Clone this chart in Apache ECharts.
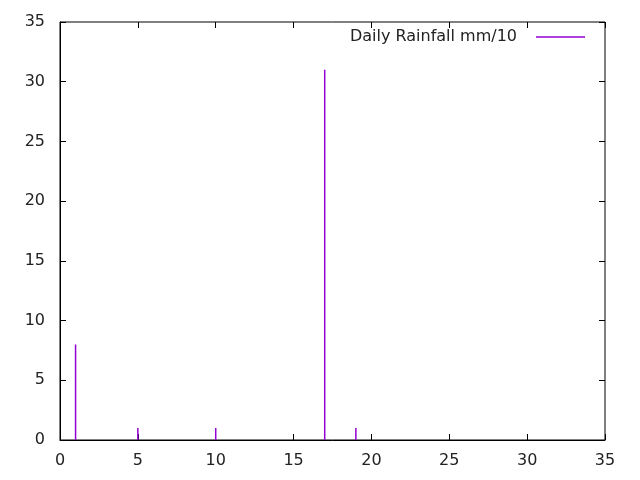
<!DOCTYPE html>
<html>
<head>
<meta charset="utf-8">
<script src="https://cdn.jsdelivr.net/npm/echarts@6/dist/echarts.min.js"></script>
<style>
  html, body { margin: 0; padding: 0; background: #fff; }
  #chart { width: 640px; height: 480px; }
</style>
</head>
<body>
<div id="chart"></div>
<script>
// day of month
const days = [1, 5, 10, 17, 19];
// rainfall in mm/10
const rainfall = [8, 1, 1, 31, 1];
const seriesName = 'Daily Rainfall mm/10';
const lineColor = '#9400d3';

const chart = echarts.init(document.getElementById('chart'));

const tickStyle = { show: true, inside: true, length: 6, lineStyle: { color: '#000' } };
const fontFamily = 'DejaVu Sans';

chart.setOption({
    animation: false,
    textStyle: { fontFamily: fontFamily },
    grid: { left: 60, right: 35, top: 22, bottom: 40, show: true, borderColor: '#000', borderWidth: 1 },
    legend: {
        right: 50,
        top: 24,
        align: 'right',
        icon: 'rect',
        itemWidth: 49,
        itemHeight: 1.5,
        itemGap: 0,
        textStyle: { fontSize: 16, color: '#222', fontFamily: fontFamily, padding: [0, 14, 0, 0] },
        data: [{ name: seriesName, itemStyle: { color: lineColor } }]
    },
    xAxis: [{
        type: 'value', min: 0, max: 35, interval: 5,
        axisLine: { show: true, onZero: false, lineStyle: { color: '#000' } },
        axisTick: tickStyle,
        splitLine: { show: false },
        axisLabel: { color: '#222', fontSize: 16, margin: 13 }
    }, {
        type: 'value', position: 'top', min: 0, max: 35, interval: 5,
        axisLine: { show: false, onZero: false },
        axisTick: tickStyle,
        splitLine: { show: false },
        axisLabel: { show: false }
    }],
    yAxis: [{
        type: 'value', min: 0, max: 35, interval: 5,
        axisLine: { show: true, onZero: false, lineStyle: { color: '#000' } },
        axisTick: tickStyle,
        splitLine: { show: false },
        axisLabel: { color: '#222', fontSize: 16, margin: 15 }
    }, {
        type: 'value', position: 'right', min: 0, max: 35, interval: 5,
        axisLine: { show: false, onZero: false },
        axisTick: tickStyle,
        splitLine: { show: false },
        axisLabel: { show: false }
    }],
    series: [{
        name: seriesName,
        type: 'bar',
        barWidth: 1.5,
        itemStyle: { color: lineColor },
        data: days.map((d, i) => [d, rainfall[i]])
    }]
});
</script>
</body>
</html>
